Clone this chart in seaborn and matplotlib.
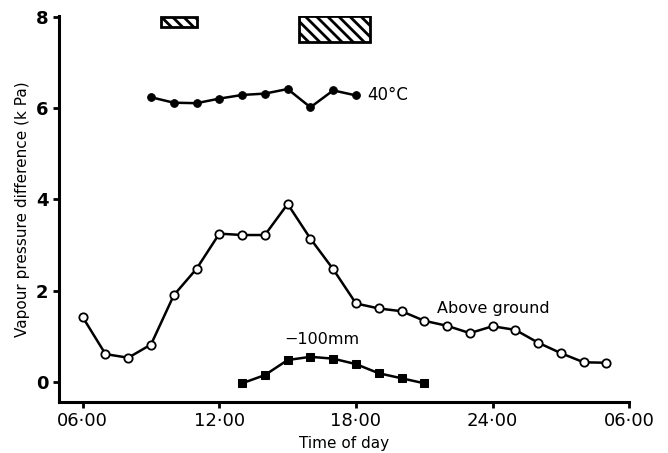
import pandas as pd
import seaborn as sns
import matplotlib.pyplot as plt
import matplotlib as mpl

sns.set_style("ticks")
plt.rcParams['font.family'] = ['DejaVu Sans']
mpl.rcParams['hatch.linewidth'] = 2.0
mpl.rcParams['text.color'] = 'black'
mpl.rcParams['axes.labelcolor'] = 'black'
mpl.rcParams['xtick.color'] = 'black'
mpl.rcParams['ytick.color'] = 'black'
mpl.rcParams['axes.edgecolor'] = 'black'

# above ground (open circles), hourly from 06:00 to 05:00 next day
above_hours = list(range(6, 30))
above_vpd = [1.42, 0.61, 0.53, 0.82, 1.90, 2.48, 3.25, 3.22, 3.22, 3.90, 3.14, 2.47,
             1.72, 1.61, 1.55, 1.34, 1.23, 1.07, 1.22, 1.14, 0.86, 0.63, 0.43, 0.42]

# 40 C chamber (filled circles)
hot_hours = list(range(9, 19))
hot_vpd = [6.24, 6.12, 6.11, 6.21, 6.29, 6.32, 6.42, 6.02, 6.39, 6.28]

# -100 mm below ground (filled squares)
deep_hours = list(range(13, 22))
deep_vpd = [-0.03, 0.15, 0.48, 0.55, 0.51, 0.39, 0.19, 0.08, -0.03]

# hatched bars at top (start, end, bottom, top)
bar_start = [9.45, 15.52]
bar_end = [11.02, 18.6]
bar_low = [7.79, 7.46]
bar_high = [8.0, 8.02]

xticks = [6, 12, 18, 24, 30]
xticklabels = ['06·00', '12·00', '18·00', '24·00', '06·00']
yticks = [0, 2, 4, 6, 8]

fig = plt.figure(figsize=(6.68, 4.53), dpi=100)
ax = fig.add_axes([0.088, 0.1126, 0.854, 0.852])

above = pd.DataFrame({'hour': above_hours, 'vpd': above_vpd})
hot = pd.DataFrame({'hour': hot_hours, 'vpd': hot_vpd})
deep = pd.DataFrame({'hour': deep_hours, 'vpd': deep_vpd})

sns.lineplot(data=above, x='hour', y='vpd', ax=ax, color='black', linewidth=1.8,
             marker='o', markersize=6, markerfacecolor='white', markeredgecolor='black',
             markeredgewidth=1.3)
sns.lineplot(data=hot, x='hour', y='vpd', ax=ax, color='black', linewidth=1.8,
             marker='o', markersize=5.5, markerfacecolor='black', markeredgecolor='black')
sns.lineplot(data=deep, x='hour', y='vpd', ax=ax, color='black', linewidth=1.8,
             marker='s', markersize=5.5, markerfacecolor='black', markeredgecolor='black')

widths = [e - s for s, e in zip(bar_start, bar_end)]
heights = [h - l for l, h in zip(bar_low, bar_high)]
ax.bar(bar_start, heights, width=widths, bottom=bar_low, align='edge',
       color='white', edgecolor='black', linewidth=2, hatch='\\\\\\')

ax.text(18.5, 6.28, '40°C', fontsize=12, va='center', ha='left')
ax.text(21.55, 1.6, 'Above ground', fontsize=11.5, va='center', ha='left')
ax.text(14.85, 0.92, '−100mm', fontsize=11.5, va='center', ha='left')

ax.set_xlim(4.95, 30)
ax.set_ylim(-0.44, 8.02)
ax.set_xticks(xticks)
ax.set_xticklabels(xticklabels, fontsize=13)
ax.set_yticks(yticks)
ax.set_yticklabels([str(v) for v in yticks], fontsize=13, fontweight='bold')
ax.set_xlabel('Time of day', fontsize=11)
ax.set_ylabel('Vapour pressure difference (k Pa)', fontsize=11)
ax.tick_params(direction='out', length=4, width=2)
for s in ['left', 'bottom']:
    ax.spines[s].set_linewidth(2.2)
sns.despine(ax=ax)
ax.grid(False)

plt.savefig('out.png', dpi=100)
